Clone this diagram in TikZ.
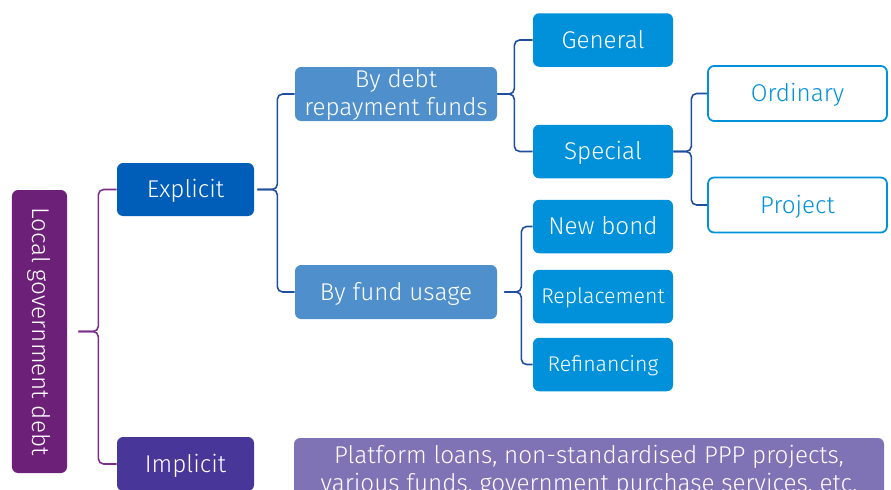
\documentclass[tikz,border=0pt]{standalone}
\usepackage{fontspec}
\setmainfont{Fira Sans}[UprightFont=* Light]
\usepackage{graphicx}
\usetikzlibrary{calc}

\definecolor{rootpurple}{HTML}{6D2077}
\definecolor{bracepurple}{HTML}{7B2E8C}
\definecolor{expblue}{HTML}{005EB8}
\definecolor{impviolet}{HTML}{483698}
\definecolor{midblue}{HTML}{4F8FCC}
\definecolor{leafblue}{HTML}{0091DA}
\definecolor{lilac}{HTML}{7F72B5}
\definecolor{linkblue}{HTML}{1F4E9F}

\tikzset{
  box/.style={rounded corners=3.5pt, inner sep=2pt, text=white,
    font=\fontsize{13.8}{16}\selectfont, text height=9.5pt, text depth=0pt},
  twolines/.style={align=center, text height=, text depth=},
  leaf/.style={box, fill=leafblue, minimum width=2.80cm, minimum height=1.07cm},
  outline/.style={box, draw=leafblue, line width=1pt, fill=white, text=leafblue,
    minimum width=3.58cm, minimum height=1.10cm},
  link/.style={draw=linkblue, line width=0.9pt, rounded corners=3pt},
  rootlink/.style={link, draw=bracepurple}
}

\begin{document}
\begin{tikzpicture}
\clip (0,0) rectangle (17.820,-9.780);

% boxes
\node[box, twolines, fill=rootpurple, minimum width=1.10cm, minimum height=5.66cm] (root) at (0.790,-6.630) {\rotatebox{-90}{Local government debt}};
\node[box, fill=expblue, minimum width=2.74cm, minimum height=1.06cm] (expl) at (3.710,-3.790) {Explicit};
\node[box, fill=impviolet, minimum width=2.74cm, minimum height=1.08cm] (impl) at (3.710,-9.280) {Implicit};
\node[box, twolines, inner ysep=0pt, fill=midblue, minimum width=4.04cm, minimum height=1.08cm] (debt) at (7.920,-1.880) {\rule{0pt}{11pt}By debt\\repayment funds};
\node[box, fill=midblue, minimum width=4.04cm, minimum height=1.08cm] (usage) at (7.920,-5.840) {By fund usage};
\node[leaf] (general) at (12.060,-0.800) {General};
\node[leaf] (special) at (12.060,-3.030) {Special};
\node[leaf] (newbond) at (12.060,-4.530) {New bond};
\node[leaf, font=\fontsize{12.1}{14}\selectfont, text height=8.4pt] (replace) at (12.060,-5.930) {Replacement};
\node[leaf, font=\fontsize{12.1}{14}\selectfont, text height=8.4pt] (refin) at (12.060,-7.290) {Refinancing};
\node[outline] (ordinary) at (15.950,-1.870) {Ordinary};
\node[outline] (project) at (15.950,-4.100) {Project};
\node[box, twolines, fill=lilac, minimum width=11.80cm, minimum height=1.32cm] (other) at (11.780,-9.420) {Platform loans, non-standardised PPP projects,\\various funds, government purchase services, etc.};

% brace tips
\coordinate (tR) at ($(root.east)+(0.22,0)$);
\coordinate (tE) at ($(expl.east)+(0.06,0)$);
\coordinate (tD) at (debt.east);
\coordinate (tU) at ($(usage.east)+(0.14,0)$);
\coordinate (tS) at (special.east);

% braces
\draw[rootlink] (expl.west) -| ($(tR)+(0.40,0)$) -- (tR);
\draw[rootlink] (impl.west) -| ($(tR)+(0.40,0)$) -- (tR);
\draw[link] (debt.west) -| ($(tE)+(0.40,0)$) -- (tE);
\draw[link] (usage.west) -| ($(tE)+(0.40,0)$) -- (tE);
\draw[link] (general.west) -| ($(tD)+(0.34,0)$) -- (tD);
\draw[link] (special.west) -| ($(tD)+(0.34,0)$) -- (tD);
\draw[link] (newbond.west) -| ($(tU)+(0.34,0)$) -- (tU);
\draw[link] (refin.west) -| ($(tU)+(0.34,0)$) -- (tU);
\draw[link] (ordinary.west) -| ($(tS)+(0.36,0)$) -- (tS);
\draw[link] (project.west) -| ($(tS)+(0.36,0)$) -- (tS);
\end{tikzpicture}
\end{document}
